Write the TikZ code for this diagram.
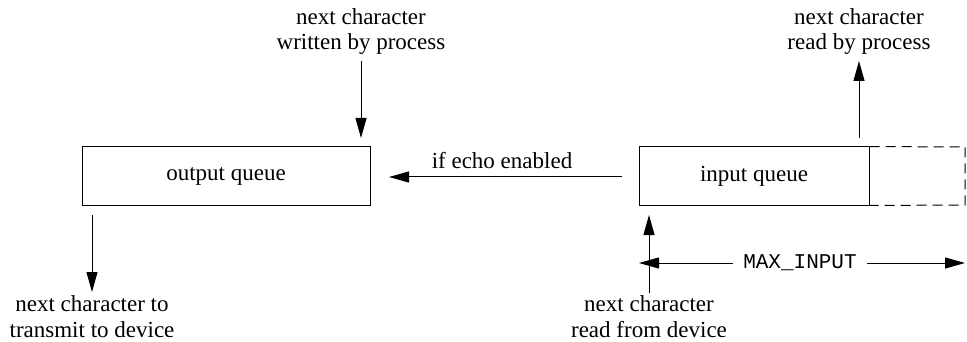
\documentclass[tikz,border=0pt]{standalone}
\usepackage{fontspec}
\setmainfont{Liberation Serif}
\setmonofont{Liberation Mono}
\usetikzlibrary{arrows.meta}
\begin{document}
\begin{tikzpicture}[x=1pt,y=-1pt,
  lbl/.style={font=\fontsize{23}{25.5}\selectfont, align=center, inner sep=0pt},
  qbox/.style={draw, line width=1pt, minimum height=58pt, inner sep=0pt, font=\fontsize{23}{25.5}\selectfont},
  conn/.style={line width=1pt, -{Triangle[length=20pt,width=11pt]}},
  conn2/.style={line width=1pt, {Triangle[length=20pt,width=11pt]}-{Triangle[length=20pt,width=11pt]}}
]
\useasboundingbox (0,0) rectangle (967,342);
% boxes
\node[qbox, minimum width=288pt] (outq) at (226,176) {output queue};
\node[qbox, minimum width=230pt] (inq) at (754,176) {input queue};
\coordinate (dne) at (965,147);
\coordinate (dse) at (965,205);
\draw[line width=1pt, dash pattern=on 10pt off 6pt] (inq.north east) -- (dne) -- (dse) -- (inq.south east);
% labels
\node[lbl] (wrt) at (361,31.5) {next character\\written by process};
\node[lbl] (rdp) at (859,31.5) {next character\\read by process};
\node[lbl] (xmt) at (92,316.5) {next character to\\transmit to device};
\node[lbl] (rdd) at (649,316.5) {next character\\read from device};
\node[lbl] (echo) at (502,161) {if echo enabled};
% connector coordinates
\coordinate (wa) at (361,61);
\coordinate (wb) at (361,138);
\coordinate (ra) at (859,138);
\coordinate (rb) at (859,61);
\coordinate (xa) at (92,215);
\coordinate (xb) at (92,292);
\coordinate (da) at (649,293);
\coordinate (db) at (649,215);
\coordinate (ea) at (622,177);
\coordinate (eb) at (389,177);
\coordinate (ma) at (639,263);
\coordinate (mb) at (965,263);
\draw[conn] (wa) -- (wb);
\draw[conn] (ra) -- (rb);
\draw[conn] (xa) -- (xb);
\draw[conn] (da) -- (db);
\draw[conn] (ea) -- (eb);
\draw[conn2] (ma) -- (mb);
\node[fill=white, inner xsep=10pt, inner ysep=2pt, font=\ttfamily\fontsize{21}{24}\selectfont] (maxin) at (800,263) {MAX\_INPUT};
\end{tikzpicture}
\end{document}
